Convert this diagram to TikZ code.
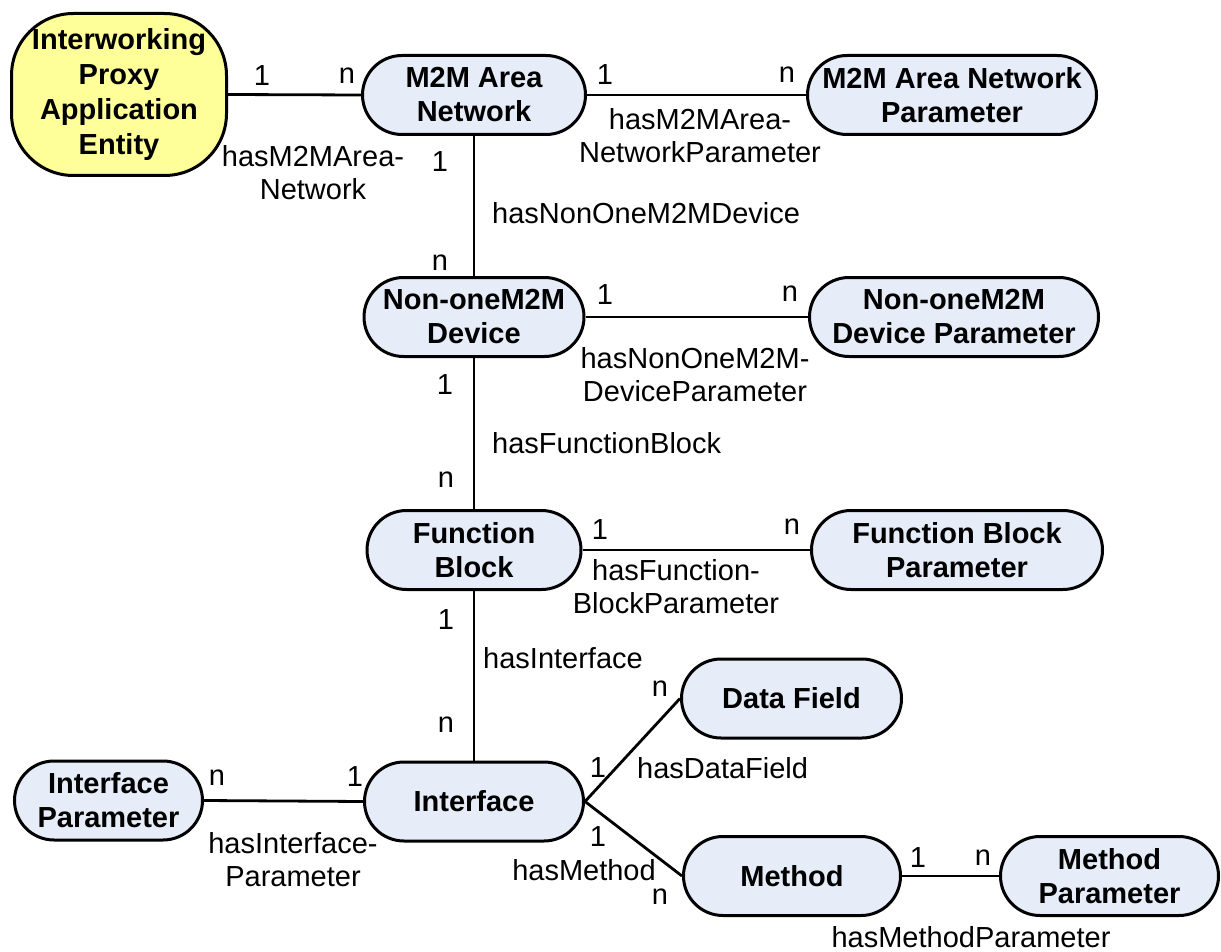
\documentclass[tikz,border=0pt]{standalone}
\usepackage{fontspec}
\setmainfont{Liberation Sans}
\definecolor{entblue}{RGB}{230,236,248}
\definecolor{entyellow}{RGB}{255,255,153}
\begin{document}
\begin{tikzpicture}[x=1pt,y=-1pt,
  ent/.style={draw, line width=3pt, fill=entblue, rounded corners=39.5pt,
    minimum height=79pt, inner sep=0pt, align=center,
    font=\fontsize{29}{34}\selectfont\bfseries},
  entproxy/.style={draw, line width=3pt, fill=entyellow, rounded corners=62pt,
    minimum width=215pt, minimum height=162pt, inner sep=0pt, align=center,
    font=\fontsize{29}{35}\selectfont\bfseries},
  rel/.style={line width=2.8pt},
  lbl/.style={inner sep=0pt, align=center, font=\fontsize{29}{33}\selectfont},
  card/.style={inner sep=0pt, font=\fontsize{29}{33}\selectfont}
]
\useasboundingbox (0,0) rectangle (1221,952);

% entities
\node[entproxy] (ipae) at (119,94.5) {Interworking\\Proxy\\Application\\Entity};
\node[ent, minimum width=223pt] (man) at (474,95) {M2M Area\\Network};
\node[ent, minimum width=289pt] (manp) at (952,95) {M2M Area Network\\Parameter};
\node[ent, minimum width=220pt] (nod) at (474,317) {Non-oneM2M\\Device};
\node[ent, minimum width=289pt] (nodp) at (954,317) {Non-oneM2M\\Device Parameter};
\node[ent, minimum width=214pt] (fb) at (474,550) {Function\\Block};
\node[ent, minimum width=291pt] (fbp) at (957,550) {Function Block\\Parameter};
\node[ent, minimum width=220pt] (df) at (791.5,698.5) {Data Field};
\node[ent, minimum width=219pt] (intf) at (474,801.5) {Interface};
\node[ent, minimum width=188pt] (ip) at (108.5,800.5) {Interface\\Parameter};
\node[ent, minimum width=217pt] (meth) at (792,876) {Method};
\node[ent, minimum width=218pt] (mp) at (1109.5,876) {Method\\Parameter};

% connectors
\draw[rel] (ipae.east) -- (man.west);
\draw[rel] (man.east) -- (manp.west);
\draw[rel] (man.south) -- (nod.north);
\draw[rel] (nod.east) -- (nodp.west);
\draw[rel] (nod.south) -- (fb.north);
\draw[rel] (fb.east) -- (fbp.west);
\draw[rel] (fb.south) -- (intf.north);
\draw[rel] (intf.west) -- (ip.east);
\draw[rel] (intf.east) -- (df.west);
\draw[rel] (intf.east) -- (meth.west);
\draw[rel] (meth.east) -- (mp.west);

% cardinalities and relation names
\node[card] (c1a) at (262,76) {1};
\node[card] (c1b) at (347,76) {n};
\node[lbl] (r1) at (313,173) {hasM2MArea-\\Network};

\node[card] (c2a) at (605,75) {1};
\node[card] (c2b) at (787,75) {n};
\node[lbl] (r2) at (700,136) {hasM2MArea-\\NetworkParameter};

\node[card] (c3a) at (440,162) {1};
\node[card] (c3b) at (440,263) {n};
\node[lbl, anchor=west] (r3) at (492,213) {hasNonOneM2MDevice};

\node[card] (c4a) at (605,295) {1};
\node[card] (c4b) at (790,294) {n};
\node[lbl] (r4) at (695,375) {hasNonOneM2M-\\DeviceParameter};

\node[card] (c5a) at (445,385) {1};
\node[card] (c5b) at (446,480) {n};
\node[lbl, anchor=west] (r5) at (492,443) {hasFunctionBlock};

\node[card] (c6a) at (600,530) {1};
\node[card] (c6b) at (792,527) {n};
\node[lbl] (r6) at (676,587) {hasFunction-\\BlockParameter};

\node[card] (c7a) at (446,620) {1};
\node[card] (c7b) at (446,725) {n};
\node[lbl, anchor=west] (r7) at (483,658) {hasInterface};

\node[card] (c8a) at (598,768) {1};
\node[card] (c8b) at (660,689) {n};
\node[lbl, anchor=west] (r8) at (637,768) {hasDataField};

\node[card] (c9a) at (598,837) {1};
\node[card] (c9b) at (660,897) {n};
\node[lbl] (r9) at (584,870) {hasMethod};

\node[card] (c10a) at (217,778) {n};
\node[card] (c10b) at (355,777) {1};
\node[lbl] (r10) at (293,860) {hasInterface-\\Parameter};

\node[card] (c11a) at (918,858) {1};
\node[card] (c11b) at (983,858) {n};
\node[lbl] (r11) at (971,937) {hasMethodParameter};
\end{tikzpicture}
\end{document}
